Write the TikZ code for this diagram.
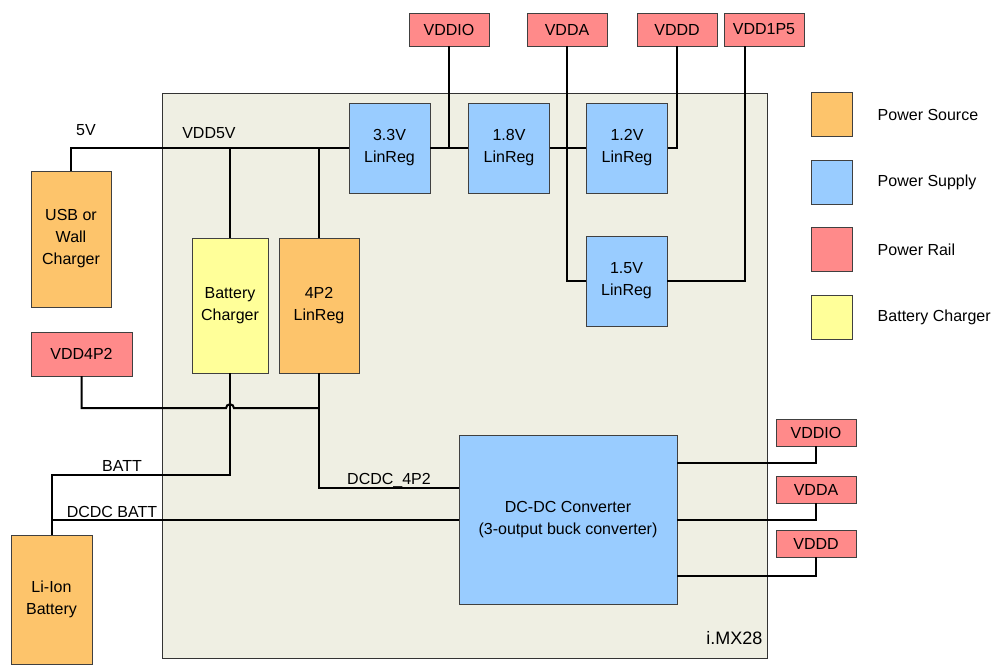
\documentclass[tikz,border=0pt]{standalone}
\usepackage{fontspec}
\setmainfont{Liberation Sans}
\usepackage{xcolor}
\usetikzlibrary{positioning,calc}

\definecolor{srcorange}{RGB}{253,196,107}
\definecolor{supblue}{RGB}{153,204,255}
\definecolor{railred}{RGB}{255,138,138}
\definecolor{chgyellow}{RGB}{255,255,153}
\definecolor{chipbg}{RGB}{239,239,227}

\begin{document}
\begin{tikzpicture}[
  x=1pt, y=-1pt,
  every node/.style={font=\fontsize{16}{22}\selectfont},
  block/.style={
    draw=black!75, thin, align=center, inner sep=0pt
  },
  src/.style={block, fill=srcorange},
  sup/.style={block, fill=supblue, minimum width=81pt, minimum height=90pt},
  rail/.style={block, fill=railred, minimum width=80pt, minimum height=33pt},
  orail/.style={block, fill=railred, minimum width=80pt, minimum height=27pt},
  chg/.style={block, fill=chgyellow},
  key/.style={block, minimum width=41pt, minimum height=44pt},
  wire/.style={line width=2pt, black}
]

\useasboundingbox (0,0) rectangle (995,664);

% i.MX28 chip outline
\node[draw=black!80, fill=chipbg, line width=0.8pt, inner sep=0pt,
  minimum width=605pt, minimum height=565pt] (chip) at (464.5,375.5) {};
\node[anchor=south east, font=\fontsize{18}{22}\selectfont] (chipname) at (766,648) {i.MX28};

% Linear regulators
\node[sup] (ldo33) at (389.5,148) {3.3V\\LinReg};
\node[sup] (ldo18) at (509,148) {1.8V\\LinReg};
\node[sup] (ldo12) at (627,148) {1.2V\\LinReg};
\node[sup] (ldo15) at (626.5,281) {1.5V\\LinReg};

% Top rails
\node[rail] (vddio) at (449,29.5) {VDDIO};
\node[rail] (vdda) at (567,29.5) {VDDA};
\node[rail] (vddd) at (677,29.5) {VDDD};
\node[rail] (vdd1p5) at (764,29.5) {VDD1P5};

% Sources and charger
\node[src, minimum width=80pt, minimum height=136pt] (usb) at (71,239) {USB or\\Wall\\Charger};
\node[chg, minimum width=76pt, minimum height=135pt] (charger) at (230,305.5) {Battery\\Charger};
\node[src, minimum width=80pt, minimum height=135pt] (ldo4p2) at (319,305.5) {4P2\\LinReg};
\node[rail, minimum width=101pt, minimum height=44pt] (vdd4p2) at (81.5,354) {VDD4P2};
\node[src, minimum width=81pt, minimum height=129pt] (batt) at (51.5,599.5) {Li-Ion\\Battery};

% DC-DC converter and outputs
\node[sup, minimum width=218pt, minimum height=169pt] (dcdc) at (568,519.5) {DC-DC Converter\\(3-output buck converter)};
\node[orail] (ovddio) at (816,432.5) {VDDIO};
\node[orail] (ovdda) at (816,489.5) {VDDA};
\node[orail] (ovddd) at (816,543.5) {VDDD};

% VDD5V rail and regulator chain
\draw[wire] (usb.north) |- (ldo33.west);
\draw[wire] (ldo33.east) -- (ldo18.west);
\draw[wire] (ldo18.east) -- (ldo12.west);
\draw[wire] (vddio.south) -- (vddio.south |- ldo33.east);
\draw[wire] (vdda.south) |- (ldo15.west);
\draw[wire] (ldo12.east) -| (vddd.south);
\draw[wire] (ldo15.east) -| ([xshift=-19pt]vdd1p5.south);
\draw[wire] (charger.north) -- (charger.north |- ldo33.west);
\draw[wire] (ldo4p2.north) -- (ldo4p2.north |- ldo33.west);

% VDD4P2 with hop over charger output
\coordinate (hop) at ($(charger.south)+(0,35)$);
\draw[wire] (vdd4p2.south) |- ([xshift=-4pt]hop)
  arc[start angle=180, end angle=0, radius=4pt] -- (hop -| ldo4p2.south);
\draw[wire] (ldo4p2.south) |- ([yshift=31.5pt]dcdc.west);

% Battery connections
\draw[wire] (charger.south) -- ++(0,102) -| (batt.north);
\draw[wire] (dcdc.west) -- (dcdc.west -| batt.north);

% DC-DC outputs
\draw[wire] ([yshift=56.5pt]dcdc.east) -| (ovddio.south);
\draw[wire] (dcdc.east) -| (ovdda.south);
\draw[wire] ([yshift=-56.5pt]dcdc.east) -| (ovddd.south);

% Net labels
\node (l5v) at (86,130) {5V};
\node (lvdd5v) at (209,133) {VDD5V};
\node (lbatt) at (122,466) {BATT};
\node (ldcbatt) at (112,512) {DCDC BATT};
\node (ldc4p2) at (389,480) {DCDC\_4P2};

% Legend
\node[key, fill=srcorange] (k1) at (831.5,114.5) {};
\node[key, fill=supblue] (k2) at (831.5,182.5) {};
\node[key, fill=railred] (k3) at (831.5,249.5) {};
\node[key, fill=chgyellow] (k4) at (831.5,317.5) {};
\node[anchor=west, right=22pt of k1] (t1) {Power Source};
\node[anchor=west, right=22pt of k2] (t2) {Power Supply};
\node[anchor=west, right=22pt of k3] (t3) {Power Rail};
\node[anchor=west, right=22pt of k4] (t4) {Battery Charger};

\end{tikzpicture}
\end{document}
